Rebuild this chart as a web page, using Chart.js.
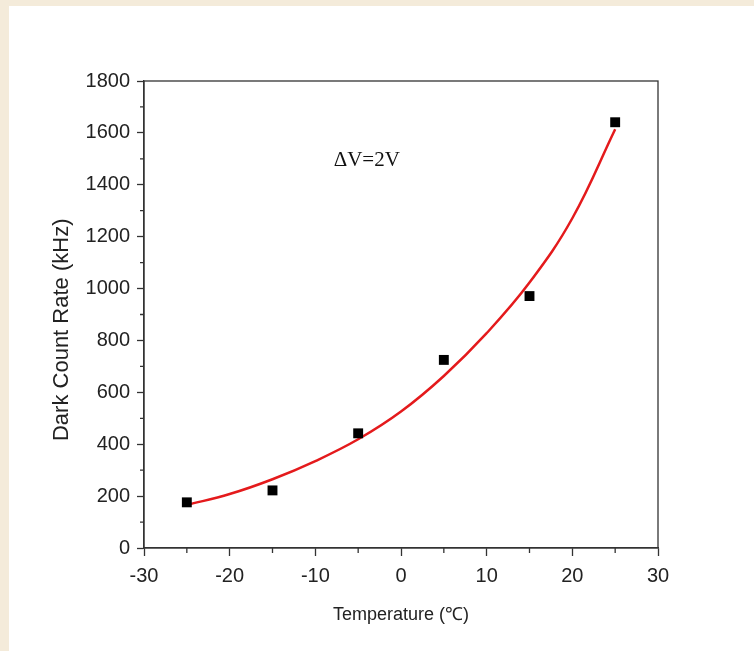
<!DOCTYPE html>
<html>
<head>
<meta charset="utf-8">
<title>Dark Count Rate vs Temperature</title>
<script src="https://cdn.jsdelivr.net/npm/chart.js@4"></script>
<style>
  html, body { margin: 0; padding: 0; }
  body { width: 754px; height: 651px; background: #f4ebda; position: relative; overflow: hidden; }
  #panel { position: absolute; left: 9px; top: 6px; right: 0; bottom: 0; background: #ffffff; }
  #chart { position: absolute; left: 0; top: 0; }
</style>
</head>
<body>
<div id="panel"></div>
<canvas id="chart" width="754" height="651"></canvas>
<script>
// 1. Data
const temps = [-25, -15, -5, 5, 15, 25];
const darkCounts = [176, 222, 442, 725, 971, 1641];

// fitted curve, read at every 5 degrees
const fitTemps = [-25, -20, -15, -10, -5, 0, 5, 10, 15, 20, 25];
const fitCounts = [166, 208, 265, 335, 419, 526, 663, 828, 1023, 1271, 1614];

const xTicks = [-30, -20, -10, 0, 10, 20, 30];
const yTicks = [0, 200, 400, 600, 800, 1000, 1200, 1400, 1600, 1800];
const noteText = 'ΔV=2V';
const notePos = { x: -4, y: 1495 };

const SANS = '"Liberation Sans", Arial, sans-serif';
const AXIS_COLOR = '#333333';

// 2. Helper: zip two arrays into {x, y} points
function toPoints(xs, ys) {
  return xs.map((x, i) => ({ x: x, y: ys[i] }));
}

// 3. Plugin: box around the plot, minor ticks and the ΔV note
const framePlugin = {
  id: 'frame',
  afterDraw(chart) {
    const { ctx, chartArea: a, scales } = chart;
    const xs = scales.x, ys = scales.y;
    ctx.save();
    ctx.strokeStyle = AXIS_COLOR;
    ctx.lineWidth = 1.3;
    ctx.strokeRect(a.left, a.top, a.right - a.left, a.bottom - a.top);

    // minor ticks halfway between the major ones
    ctx.beginPath();
    for (let i = 0; i < xTicks.length - 1; i++) {
      const px = xs.getPixelForValue((xTicks[i] + xTicks[i + 1]) / 2);
      ctx.moveTo(px, a.bottom);
      ctx.lineTo(px, a.bottom + 5);
    }
    for (let i = 0; i < yTicks.length - 1; i++) {
      const py = ys.getPixelForValue((yTicks[i] + yTicks[i + 1]) / 2);
      ctx.moveTo(a.left, py);
      ctx.lineTo(a.left - 4, py);
    }
    ctx.stroke();

    ctx.fillStyle = '#111111';
    ctx.font = '21px "Liberation Serif", "Times New Roman", serif';
    ctx.textAlign = 'center';
    ctx.textBaseline = 'middle';
    ctx.fillText(noteText, xs.getPixelForValue(notePos.x), ys.getPixelForValue(notePos.y));
    ctx.restore();
  }
};

// 4. Build the chart
function renderChart() {
  const ctx = document.getElementById('chart').getContext('2d');

  new Chart(ctx, {
    type: 'scatter',
    data: {
      datasets: [
        {
          label: 'Measured',
          data: toPoints(temps, darkCounts),
          pointStyle: 'rect',
          pointRadius: 7,
          pointBackgroundColor: '#000000',
          pointBorderWidth: 0,
          order: 1
        },
        {
          label: 'Fit',
          data: toPoints(fitTemps, fitCounts),
          showLine: true,
          borderColor: '#e41a1c',
          borderWidth: 2.5,
          pointRadius: 0,
          tension: 0.4,
          order: 2
        }
      ]
    },
    options: {
      responsive: false,
      animation: false,
      layout: { padding: { left: 0, top: 81, right: 96, bottom: 0 } },
      plugins: {
        legend: { display: false },
        tooltip: { enabled: false }
      },
      scales: {
        x: {
          type: 'linear',
          min: xTicks[0],
          max: xTicks[xTicks.length - 1],
          afterBuildTicks: (scale) => { scale.ticks = xTicks.map(v => ({ value: v })); },
          afterFit: (scale) => { scale.height = 103; },
          border: { display: true, color: AXIS_COLOR, width: 1.3 },
          grid: { drawOnChartArea: false, drawTicks: true, tickLength: 8, tickColor: AXIS_COLOR, tickWidth: 1.3 },
          ticks: {
            color: '#222222', padding: 8, maxRotation: 0,
            font: { family: SANS, size: 20 },
            callback: (v) => String(v)
          },
          title: {
            display: true,
            text: 'Temperature (℃)',
            color: '#222222',
            font: { family: SANS, size: 18 },
            padding: { top: 0, bottom: 25 }
          }
        },
        y: {
          type: 'linear',
          min: yTicks[0],
          max: yTicks[yTicks.length - 1],
          afterBuildTicks: (scale) => { scale.ticks = yTicks.map(v => ({ value: v })); },
          afterFit: (scale) => { scale.width = 144; },
          border: { display: true, color: AXIS_COLOR, width: 1.3 },
          grid: { drawOnChartArea: false, drawTicks: true, tickLength: 7, tickColor: AXIS_COLOR, tickWidth: 1.3 },
          ticks: {
            color: '#222222', padding: 7,
            font: { family: SANS, size: 20 },
            callback: (v) => String(v)
          },
          title: {
            display: true,
            // trailing spaces push the label a little lower, as in the original
            text: 'Dark Count Rate (kHz)     ',
            color: '#222222',
            font: { family: SANS, size: 22 },
            padding: { top: 49, bottom: 0 }
          }
        }
      }
    },
    plugins: [framePlugin]
  });
}

renderChart();
</script>
</body>
</html>
